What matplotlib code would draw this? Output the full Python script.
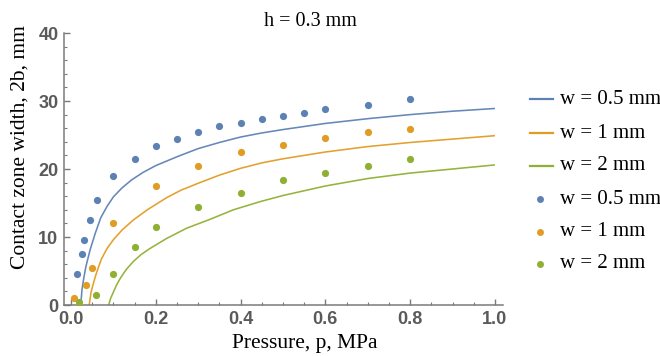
import matplotlib
matplotlib.use("Agg")
import matplotlib.pyplot as plt
from matplotlib.lines import Line2D
from matplotlib.ticker import MultipleLocator

# model curves
p_line_05 = [0.023, 0.026, 0.03, 0.035, 0.045, 0.057, 0.07, 0.085, 0.1, 0.12, 0.143, 0.17,
             0.2, 0.25, 0.3, 0.35, 0.4, 0.45, 0.5, 0.6, 0.7, 0.8, 0.9, 1.0]
b_line_05 = [0, 2.3, 3.9, 5.6, 8.1, 10.5, 12.8, 14.5, 15.9, 17.2, 18.4, 19.5,
             20.5, 21.8, 23.0, 23.9, 24.7, 25.3, 25.8, 26.7, 27.4, 28.0, 28.5, 28.9]

p_line_1 = [0.043, 0.047, 0.052, 0.058, 0.065, 0.072, 0.085, 0.1, 0.12, 0.147, 0.18, 0.226,
            0.26, 0.3, 0.35, 0.4, 0.45, 0.5, 0.6, 0.7, 0.8, 0.9, 1.0]
b_line_1 = [0, 1.8, 3.0, 4.3, 5.6, 6.8, 8.3, 9.6, 11.0, 12.5, 14.0, 15.8,
            16.9, 17.9, 19.1, 20.1, 20.9, 21.5, 22.5, 23.3, 23.9, 24.4, 24.9]

p_line_2 = [0.089, 0.093, 0.1, 0.108, 0.116, 0.13, 0.147, 0.165, 0.186, 0.226, 0.273,
            0.328, 0.383, 0.446, 0.5, 0.6, 0.7, 0.8, 0.9, 1.0]
b_line_2 = [0, 0.9, 1.9, 3.0, 3.9, 5.2, 6.4, 7.4, 8.3, 9.8, 11.3,
            12.6, 14.0, 15.2, 16.1, 17.5, 18.6, 19.4, 20.0, 20.6]

# measured points
p_pts_05 = [0.015, 0.026, 0.031, 0.045, 0.062, 0.1, 0.15, 0.2, 0.25, 0.3, 0.35, 0.4,
            0.45, 0.5, 0.55, 0.6, 0.7, 0.8]
b_pts_05 = [4.5, 7.5, 9.6, 12.5, 15.4, 18.9, 21.4, 23.4, 24.4, 25.4, 26.3, 26.8,
            27.3, 27.8, 28.3, 28.8, 29.4, 30.3]

p_pts_1 = [0.008, 0.035, 0.05, 0.1, 0.2, 0.3, 0.4, 0.5, 0.6, 0.7, 0.8]
b_pts_1 = [1.1, 2.9, 5.5, 12.1, 17.5, 20.4, 22.5, 23.5, 24.5, 25.5, 25.9]

p_pts_2 = [0.02, 0.06, 0.1, 0.15, 0.2, 0.3, 0.4, 0.5, 0.6, 0.7, 0.8]
b_pts_2 = [0.5, 1.5, 4.5, 8.5, 11.5, 14.4, 16.4, 18.4, 19.4, 20.4, 21.4]

labels = ["w = 0.5 mm", "w = 1 mm", "w = 2 mm"]
colors = ["#5E81B5", "#E19C24", "#8FB032"]

SERIF = ["Liberation Serif", "DejaVu Serif"]
SANS = ["Liberation Sans", "DejaVu Sans"]
AXIS_GRAY = "#7a7a7a"
TICK_GRAY = "#5a5a5a"

fig = plt.figure(figsize=(6.6, 3.56), dpi=100)
ax = fig.add_axes([64 / 660, 1 - 305 / 356, 439 / 660, 272 / 356])

lines = [(p_line_05, b_line_05), (p_line_1, b_line_1), (p_line_2, b_line_2)]
points = [(p_pts_05, b_pts_05), (p_pts_1, b_pts_1), (p_pts_2, b_pts_2)]

for (px, by), c in zip(lines, colors):
    ax.plot(px, by, color=c, lw=1.15, alpha=0.95, solid_capstyle="butt")
for (px, by), c in zip(points, colors):
    ax.plot(px, by, "o", color=c, ms=5.2, mec="none", clip_on=False, zorder=3)

ax.set_xlim(-0.0165, 1.019)
ax.set_ylim(0, 40)

ax.xaxis.set_major_locator(MultipleLocator(0.2))
ax.xaxis.set_minor_locator(MultipleLocator(0.05))
ax.yaxis.set_major_locator(MultipleLocator(10))
ax.yaxis.set_minor_locator(MultipleLocator(2))
ax.set_xticks([0.0, 0.2, 0.4, 0.6, 0.8, 1.0])
ax.set_xticklabels(["0.0", "0.2", "0.4", "0.6", "0.8", "1.0"])
ax.set_yticks([0, 10, 20, 30, 40])

for s in ["top", "right"]:
    ax.spines[s].set_visible(False)
for s in ["left", "bottom"]:
    ax.spines[s].set_color(AXIS_GRAY)
    ax.spines[s].set_linewidth(1.1)

ax.tick_params(which="major", direction="in", length=4.5, width=1.0, color=AXIS_GRAY,
               labelcolor=TICK_GRAY, labelsize=13, pad=4)
ax.tick_params(which="minor", direction="in", length=2.5, width=0.8, color=AXIS_GRAY)
for t in ax.get_xticklabels() + ax.get_yticklabels():
    t.set_fontfamily(SANS)
    t.set_fontweight("bold")

ax.set_xlabel("Pressure, p, MPa", family=SERIF, fontsize=15.5, color="black")
ax.xaxis.set_label_coords(0.549, -0.14)
ax.xaxis.label.set_verticalalignment("center")
ax.set_ylabel("Contact zone width, 2b, mm", family=SERIF, fontsize=15.5, color="black")
ax.yaxis.set_label_coords(-0.1, 0.581)
ax.yaxis.label.set_verticalalignment("center")

fig.text(310 / 660, 1 - 22 / 356, "h = 0.3 mm", family=SERIF, fontsize=14.5,
         ha="center", va="center")

# legend, laid out like the Mathematica one on the right
W, H = 660, 356
line_rows = [99, 133, 166]
dot_rows = [199, 232, 264]
for y, c, lab in zip(line_rows, colors, labels):
    fig.add_artist(Line2D([530 / W, 553 / W], [1 - y / H, 1 - y / H], color=c, lw=1.6,
                          transform=fig.transFigure))
    fig.text(560 / W, 1 - y / H, lab, family=SERIF, fontsize=15, ha="left", va="center")
for y, c, lab in zip(dot_rows, colors, labels):
    fig.add_artist(Line2D([540 / W], [1 - y / H], marker="o", ms=5, color=c, mec="none",
                          transform=fig.transFigure))
    fig.text(560 / W, 1 - y / H, lab, family=SERIF, fontsize=15, ha="left", va="center")

fig.savefig("out.png", dpi=100)
